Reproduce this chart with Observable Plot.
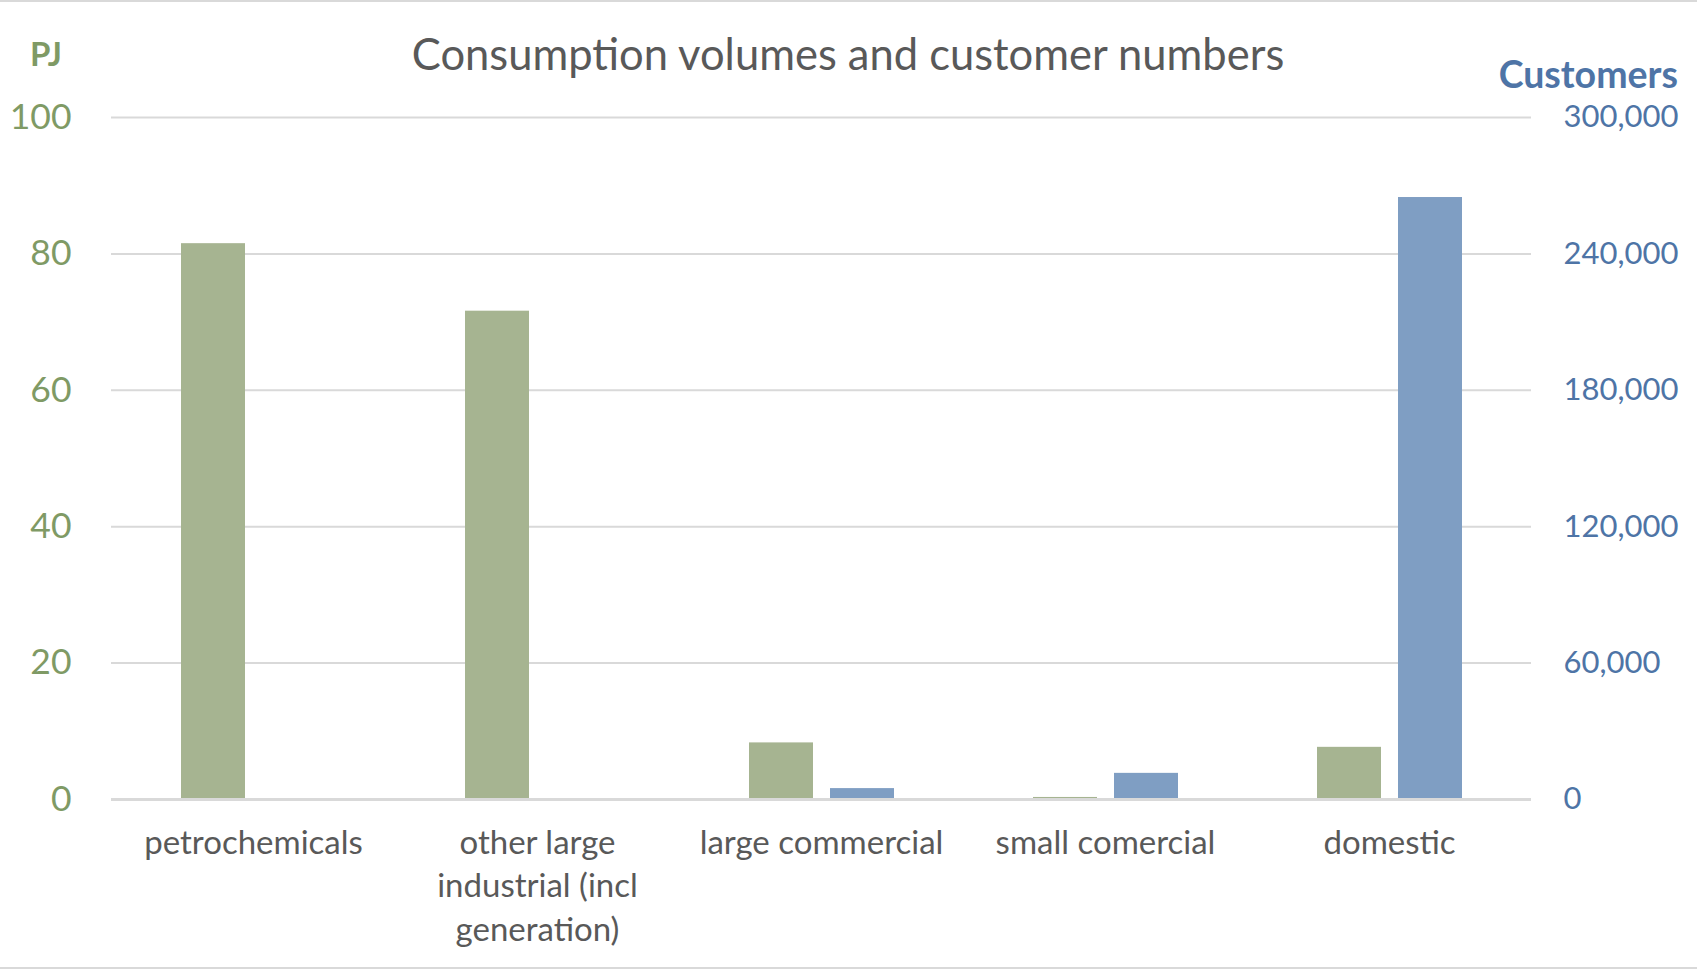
<!DOCTYPE html>
<html>
<head>
<meta charset="utf-8">
<script src="https://cdn.jsdelivr.net/npm/d3@7"></script>
<script src="https://cdn.jsdelivr.net/npm/@observablehq/plot@0.6"></script>
<style>
  html, body { margin: 0; padding: 0; background: #fff; overflow: hidden; }
  #wrap { position: relative; width: 1697px; height: 969px; font-family: Lato, "Open Sans", sans-serif; }
  #wrap .frame { position: absolute; left: 0; right: 0; top: 0; bottom: 0; border-top: 2px solid #d9d9d9; border-bottom: 2px solid #d9d9d9; box-sizing: border-box; }
  .lbl { position: absolute; white-space: nowrap; line-height: 1; }
  #title { left: 848px; top: 54px; transform: translate(-50%, -50%); font-size: 43.5px; color: #595959; }
  #pj { left: 46px; top: 53px; transform: translate(-50%, -50%); font-size: 33px; font-weight: bold; color: #7f9a65; }
  #cust { right: 19px; top: 74px; transform: translate(0, -50%); font-size: 37.5px; font-weight: bold; color: #4e74a6; }
  #chart { position: absolute; left: 0; top: 0; }
</style>
</head>
<body>
<div id="wrap">
  <div class="frame"></div>
  <div id="chart"></div>
  <div class="lbl" id="title">Consumption volumes and customer numbers</div>
  <div class="lbl" id="pj">PJ</div>
  <div class="lbl" id="cust">Customers</div>
</div>
<script>
const categories = ["petrochemicals", "other large industrial (incl generation)", "large commercial", "small comercial", "domestic"];
const categoryLabels = ["petrochemicals", "other large\nindustrial (incl\ngeneration)", "large commercial", "small comercial", "domestic"];
const consumptionPJ = [81.5, 71.6, 8.3, 0.3, 7.65];
const customerNumbers = [0, 0, 4800, 11500, 264800];
const pjTicks = [0, 20, 40, 60, 80, 100];
const customersPerPJUnit = 3000; // right axis 300,000 aligns with left 100

const series = ["PJ", "Customers"];
const data = [];
categories.forEach((c, i) => {
  data.push({category: c, series: "PJ", value: consumptionPJ[i]});
  data.push({category: c, series: "Customers", value: customerNumbers[i] / customersPerPJUnit});
});

const green = "#7f9a65", blue = "#4e74a6";
const chart = Plot.plot({
  width: 1697,
  height: 969,
  marginTop: 117,
  marginBottom: 170,
  marginLeft: 110,
  marginRight: 166,
  style: {fontFamily: "Lato, 'Open Sans', sans-serif", background: "transparent"},
  fx: {domain: categories, padding: 0, label: null},
  x: {domain: series, paddingInner: 0.21, paddingOuter: 0.84, axis: null},
  y: {domain: [0, 100], label: null},
  color: {domain: series, range: ["#a6b491", "#7f9ec3"]},
  marks: [
    Plot.gridY({ticks: pjTicks, stroke: "#d9d9d9", strokeOpacity: 1, strokeWidth: 2}),
    Plot.barY(data, {fx: "category", x: "series", y: "value", fill: "series"}),
    Plot.ruleY([0], {stroke: "#d9d9d9", strokeWidth: 3}),
    Plot.axisY({ticks: pjTicks, anchor: "left", tickSize: 0, tickPadding: 40, fontSize: 35.5, color: green, label: null}),
    Plot.axisY({ticks: pjTicks, anchor: "right", tickSize: 0, tickPadding: 32, fontSize: 31, color: blue, label: null,
      tickFormat: d => d3.format(",")(d * customersPerPJUnit)}),
    Plot.axisFx({anchor: "bottom", tickSize: 0, tickPadding: 24, fontSize: 33, color: "#595959", label: null, lineHeight: 1.31,
      tickFormat: d => categoryLabels[categories.indexOf(d)]})
  ]
});
document.getElementById("chart").appendChild(chart);
</script>
</body>
</html>
